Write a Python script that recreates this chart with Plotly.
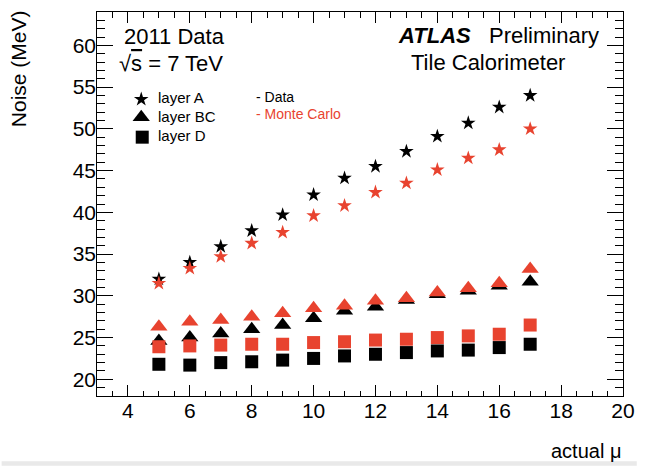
import plotly.graph_objects as go

# Average pile-up (actual mu) bins
mu = [5, 6, 7, 8, 9, 10, 11, 12, 13, 14, 15, 16, 17]

# Cell noise (MeV) per Tile Calorimeter layer, collision data
layer_a_data = [32.0, 34.0, 35.9, 37.8, 39.7, 42.1, 44.1, 45.5, 47.3, 49.1, 50.7, 52.6, 54.0]
layer_bc_data = [24.6, 25.0, 25.5, 26.0, 26.5, 27.3, 28.2, 28.7, 29.5, 30.2, 30.6, 31.2, 31.7]
layer_d_data = [21.8, 21.7, 22.0, 22.1, 22.3, 22.5, 22.8, 23.0, 23.2, 23.4, 23.5, 23.8, 24.2]

# Cell noise (MeV) per layer, Monte Carlo simulation
layer_a_mc = [31.5, 33.3, 34.7, 36.3, 37.6, 39.6, 40.8, 42.4, 43.5, 45.1, 46.5, 47.5, 50.0]
layer_bc_mc = [26.3, 26.9, 27.1, 27.5, 27.9, 28.5, 28.8, 29.4, 29.7, 30.4, 30.9, 31.5, 33.2]
layer_d_mc = [23.9, 24.0, 24.1, 24.2, 24.2, 24.4, 24.5, 24.7, 24.8, 25.0, 25.2, 25.4, 26.5]

legend_labels = ["layer A", "layer BC", "layer D"]
source_labels = ["- Data", "- Monte Carlo"]

X_RANGE = [3, 20]
Y_RANGE = [18, 64]

W, H = 646, 466
ML, MR, MT, MB = 97, 14, 11, 70
PW, PH = W - ML - MR, H - MT - MB

BLACK = "#000000"
RED = "#e8432f"
FONT = "Liberation Sans, Arial, Helvetica, sans-serif"

STAR = dict(symbol="star", size=11)
TRI = dict(symbol="triangle-up", size=15)
SQR = dict(symbol="square", size=13)


def px(x):
    """Pixel column -> paper x."""
    return (x - ML) / PW


def py(y):
    """Pixel row -> paper y."""
    return (H - MB - y) / PH


def dx(x):
    """Pixel column -> x-axis value (for the key symbols)."""
    return X_RANGE[0] + px(x) * (X_RANGE[1] - X_RANGE[0])


def dy(y):
    """Pixel row -> y-axis value (for the key symbols)."""
    return Y_RANGE[0] + py(y) * (Y_RANGE[1] - Y_RANGE[0])


fig = go.Figure()

series = [
    (layer_a_data, STAR, BLACK),
    (layer_bc_data, TRI, BLACK),
    (layer_d_data, SQR, BLACK),
    (layer_a_mc, STAR, RED),
    (layer_bc_mc, TRI, RED),
    (layer_d_mc, SQR, RED),
]
for values, sym, col in series:
    fig.add_trace(go.Scatter(
        x=mu, y=values, mode="markers",
        marker=dict(symbol=sym["symbol"], size=sym["size"], color=col),
        showlegend=False, hoverinfo="skip",
    ))

# Key symbols, on the label axes (same ranges as the main ones)
key_pos = [(142, 98.5), (142, 116.5), (143, 136.5)]
for (kx, ky), sym in zip(key_pos, [STAR, TRI, SQR]):
    fig.add_trace(go.Scatter(
        x=[dx(kx)], y=[dy(ky)], mode="markers", xaxis="x2", yaxis="y2",
        marker=dict(symbol=sym["symbol"], size=sym["size"], color=BLACK),
        showlegend=False, hoverinfo="skip",
    ))

HIDDEN = "rgba(0,0,0,0)"
label_font = dict(family=FONT, size=21, color=BLACK)

fig.update_layout(
    width=W, height=H,
    margin=dict(l=ML, r=MR, t=MT, b=MB),
    plot_bgcolor="white",
    # main axes: frame plus inside major/minor ticks on all four sides
    xaxis=dict(range=X_RANGE, dtick=2, showline=True, linecolor=BLACK,
               mirror="ticks", ticks="inside", ticklen=11, tickcolor=BLACK,
               tickfont=dict(color=HIDDEN),
               minor=dict(ticks="inside", ticklen=5.5, dtick=0.5,
                          tickcolor=BLACK)),
    yaxis=dict(range=Y_RANGE, dtick=5, showline=True, linecolor=BLACK,
               mirror="ticks", ticks="inside", ticklen=16, tickcolor=BLACK,
               tickfont=dict(color=HIDDEN),
               minor=dict(ticks="inside", ticklen=8, dtick=1,
                          tickcolor=BLACK)),
    # overlay axes: the tick labels
    xaxis2=dict(overlaying="x", anchor="y2", side="bottom", range=X_RANGE,
                dtick=2, ticks="", showline=False, showgrid=False,
                zeroline=False, tickfont=label_font),
    yaxis2=dict(overlaying="y", anchor="x2", side="left", range=Y_RANGE,
                dtick=5, ticks="", showline=False, showgrid=False,
                zeroline=False, tickfont=label_font),
    showlegend=False,
)

ann = []


def text(s, x, y, size, xanchor="left", color=BLACK, angle=0):
    ann.append(dict(
        text=s, x=px(x), y=py(y), xref="paper", yref="paper",
        xanchor=xanchor, yanchor="middle", showarrow=False, textangle=angle,
        font=dict(family=FONT, size=size, color=color),
    ))


# Run / experiment labels
text("2011 Data", 122, 36, 22)
text("√<span style='text-decoration:overline'>s</span> = 7 TeV", 117, 63, 22)
text("<b><i>ATLAS</i></b>", 401, 35, 22)
text("Preliminary", 494, 35, 22)
text("Tile Calorimeter", 414, 62, 22)

# Key text
for lab, yy in zip(legend_labels, [97, 115.5, 135]):
    text(lab, 157, yy, 15)
text(source_labels[0], 257, 96, 14)
text(source_labels[1], 257, 113, 14, color=RED)

# Axis titles
text("actual μ", 632, 451, 20, xanchor="right")
ann.append(dict(
    text="Noise (MeV)", x=px(18), y=py(68), xref="paper", yref="paper",
    xanchor="center", yanchor="middle", showarrow=False, textangle=-90,
    font=dict(family=FONT, size=21, color=BLACK),
))
fig.update_layout(annotations=ann)

# Light strip along the lower edge of the canvas
fig.add_shape(type="rect", xref="paper", yref="paper",
              x0=px(0), x1=px(W), y0=py(H), y1=py(461.5),
              fillcolor="#e9e9e9", line=dict(width=0), layer="above")

fig.write_html("out.html")
